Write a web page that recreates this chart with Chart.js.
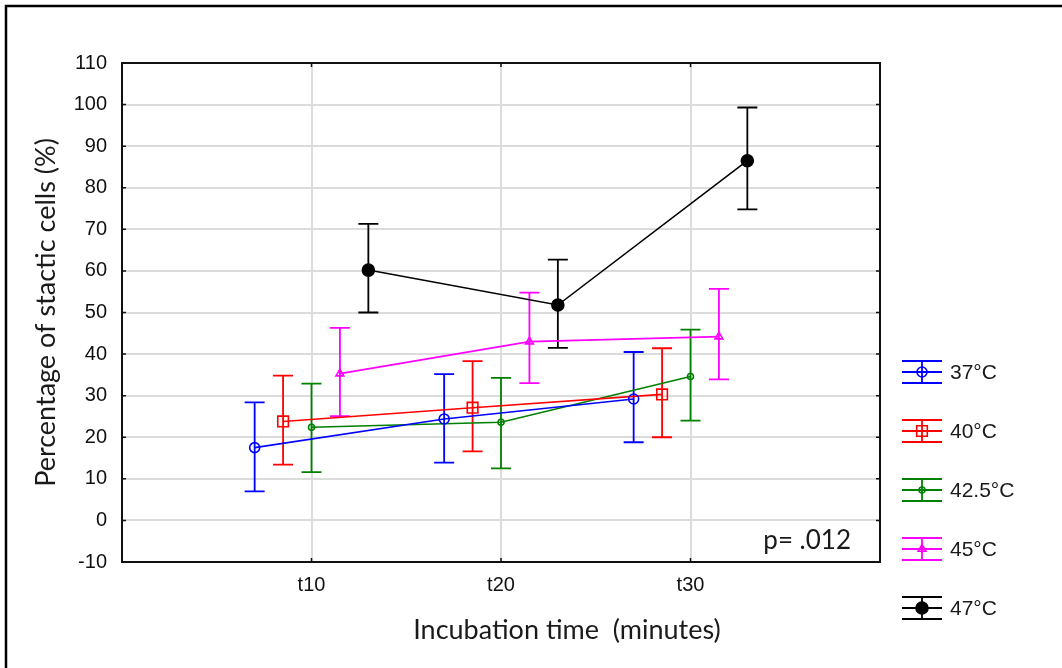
<!DOCTYPE html>
<html>
<head>
<meta charset="utf-8">
<script src="https://cdn.jsdelivr.net/npm/chart.js@4.4.1/dist/chart.umd.min.js"></script>
<style>
  html, body { margin: 0; padding: 0; background: #ffffff; }
  #wrap { width: 1062px; height: 668px; position: relative; }
</style>
</head>
<body>
<div id="wrap"><canvas id="c" width="1062" height="668"></canvas></div>
<script>
// ---------------- DATA ----------------
const categories = ['t10', 't20', 't30'];
const seriesNames = ['37°C', '40°C', '42.5°C', '45°C', '47°C'];
const yTickValues = [-10, 0, 10, 20, 30, 40, 50, 60, 70, 80, 90, 100, 110];

const mean37  = [17.5, 24.4, 29.2];
const upper37 = [28.4, 35.2, 40.5];
const lower37 = [7.0, 13.9, 18.8];

const mean40  = [23.8, 27.1, 30.3];
const upper40 = [34.8, 38.3, 41.4];
const lower40 = [13.4, 16.6, 20.0];

const mean425  = [22.4, 23.6, 34.6];
const upper425 = [32.9, 34.3, 45.9];
const lower425 = [11.6, 12.5, 24.0];

const mean45  = [35.3, 43.0, 44.2];
const upper45 = [46.3, 54.8, 55.7];
const lower45 = [25.1, 33.0, 33.9];

const mean47  = [60.2, 51.8, 86.5];
const upper47 = [71.3, 62.7, 99.3];
const lower47 = [50.0, 41.5, 74.8];

const pText = 'p= .012';
const xTitle = 'Incubation time  (minutes)';
const yTitle = 'Percentage of stactic cells (%)';

// ---------------- STYLE ----------------
const seriesStyle = [
  { color: '#0000ff', pointStyle: 'circle',   radius: 5,   fill: 'rgba(0,0,0,0)', dodge: -0.3 },
  { color: '#ff0000', pointStyle: 'rect',     radius: 7.5, fill: 'rgba(0,0,0,0)', dodge: -0.15 },
  { color: '#008000', pointStyle: 'circle',   radius: 3,   fill: 'rgba(0,0,0,0)', dodge: 0 },
  { color: '#ff00ff', pointStyle: 'triangle', radius: 4.5, fill: 'rgba(0,0,0,0)', dodge: 0.15 },
  { color: '#000000', pointStyle: 'circle',   radius: 6,   fill: '#000000',       dodge: 0.3 }
];
const means  = [mean37, mean40, mean425, mean45, mean47];
const uppers = [upper37, upper40, upper425, upper45, upper47];
const lowers = [lower37, lower40, lower425, lower45, lower47];

const tickFont = { family: '"Liberation Sans", Arial, sans-serif', size: 20 };
const titleFontCss = '27px Lato, "Open Sans", sans-serif';
const pFontCss = '26px Lato, "Open Sans", sans-serif';
const legendFontCss = '21px "Liberation Sans", Arial, sans-serif';
const gridColor = '#dcdcdc';

const datasets = seriesNames.map((name, s) => ({
  label: name,
  data: means[s].map((m, i) => ({ x: i + 1 + seriesStyle[s].dodge, y: m })),
  borderColor: seriesStyle[s].color,
  backgroundColor: seriesStyle[s].fill,
  borderWidth: 1.6,
  pointStyle: seriesStyle[s].pointStyle,
  pointRadius: seriesStyle[s].radius,
  pointBorderColor: seriesStyle[s].color,
  pointBackgroundColor: seriesStyle[s].fill,
  pointBorderWidth: 1.6,
  pointHoverRadius: seriesStyle[s].radius,
  tension: 0,
  fill: false
}));

const decoPlugin = {
  id: 'deco',
  beforeDraw(chart) {
    const ctx = chart.ctx;
    ctx.save();
    ctx.fillStyle = '#ffffff';
    ctx.fillRect(0, 0, chart.width, chart.height);
    ctx.restore();
  },
  beforeDatasetsDraw(chart) {
    const ctx = chart.ctx;
    const ys = chart.scales.y;
    ctx.save();
    chart.data.datasets.forEach((ds, s) => {
      const meta = chart.getDatasetMeta(s);
      ctx.strokeStyle = seriesStyle[s].color;
      ctx.lineWidth = 1.8;
      meta.data.forEach((pt, i) => {
        const x = pt.x;
        const yt = ys.getPixelForValue(uppers[s][i]);
        const yb = ys.getPixelForValue(lowers[s][i]);
        ctx.beginPath();
        ctx.moveTo(x, yt); ctx.lineTo(x, yb);
        ctx.moveTo(x - 10, yt); ctx.lineTo(x + 10, yt);
        ctx.moveTo(x - 10, yb); ctx.lineTo(x + 10, yb);
        ctx.stroke();
      });
    });
    ctx.restore();
  },
  afterDraw(chart) {
    const ctx = chart.ctx;
    const a = chart.chartArea;
    const xs = chart.scales.x, ys = chart.scales.y;
    ctx.save();
    // plot frame
    ctx.strokeStyle = '#111111';
    ctx.lineWidth = 2;
    ctx.strokeRect(a.left, a.top, a.right - a.left, a.bottom - a.top);
    // inward tick marks
    ctx.lineWidth = 1.5;
    ctx.beginPath();
    ys.ticks.forEach(t => {
      const y = ys.getPixelForValue(t.value);
      ctx.moveTo(a.left, y); ctx.lineTo(a.left + 4, y);
      ctx.moveTo(a.right, y); ctx.lineTo(a.right - 4, y);
    });
    xs.ticks.forEach(t => {
      const x = xs.getPixelForValue(t.value);
      ctx.moveTo(x, a.top); ctx.lineTo(x, a.top + 4);
      ctx.moveTo(x, a.bottom); ctx.lineTo(x, a.bottom - 4);
    });
    ctx.stroke();

    // outer figure border (top and left)
    ctx.strokeStyle = '#000000';
    ctx.lineWidth = 2.5;
    ctx.beginPath();
    ctx.moveTo(6, chart.height); ctx.lineTo(6, 6); ctx.lineTo(chart.width, 6);
    ctx.stroke();

    // p value
    ctx.fillStyle = '#1a1a1a';
    ctx.font = pFontCss;
    ctx.textAlign = 'right';
    ctx.textBaseline = 'middle';
    ctx.fillText(pText, a.right - 29, a.bottom - 21);

    // axis titles
    ctx.font = titleFontCss;
    ctx.textAlign = 'center';
    ctx.fillText(xTitle, 567, 630);
    ctx.save();
    ctx.translate(46, (a.top + a.bottom) / 2);
    ctx.rotate(-Math.PI / 2);
    ctx.fillText(yTitle, 0, 0);
    ctx.restore();

    // legend
    const lx0 = a.right + 22, lx1 = a.right + 62, lcx = (lx0 + lx1) / 2;
    seriesNames.forEach((name, s) => {
      const cy = 372 + s * 59;
      const st = seriesStyle[s];
      ctx.strokeStyle = st.color;
      ctx.lineWidth = 1.8;
      ctx.beginPath();
      ctx.moveTo(lx0, cy - 11); ctx.lineTo(lx1, cy - 11);
      ctx.moveTo(lx0, cy); ctx.lineTo(lx1, cy);
      ctx.moveTo(lx0, cy + 11); ctx.lineTo(lx1, cy + 11);
      ctx.moveTo(lcx, cy - 11); ctx.lineTo(lcx, cy + 11);
      ctx.stroke();
      ctx.fillStyle = st.fill;
      ctx.lineWidth = 1.6;
      Chart.helpers.drawPoint(ctx, { pointStyle: st.pointStyle, radius: st.radius, rotation: 0, borderWidth: 1.6 }, lcx, cy);
      ctx.fillStyle = '#1a1a1a';
      ctx.font = legendFontCss;
      ctx.textAlign = 'left';
      ctx.textBaseline = 'middle';
      ctx.fillText(name, lx1 + 8, cy + 1);
    });
    ctx.restore();
  }
};

new Chart(document.getElementById('c'), {
  type: 'line',
  data: { datasets },
  options: {
    responsive: false,
    animation: false,
    events: [],
    layout: { padding: { top: 63, right: 182, left: 0, bottom: 0 } },
    plugins: { legend: { display: false }, tooltip: { enabled: false } },
    scales: {
      x: {
        type: 'linear',
        min: 0, max: categories.length + 1,
        afterBuildTicks: sc => { sc.ticks = categories.map((c, i) => ({ value: i + 1 })); },
        afterFit: sc => { sc.height = 106; },
        ticks: {
          callback: v => categories[v - 1],
          font: tickFont, color: '#111111', padding: 11, maxRotation: 0, autoSkip: false
        },
        grid: { color: gridColor, lineWidth: 2, drawTicks: false },
        border: { display: false }
      },
      y: {
        type: 'linear',
        min: yTickValues[0], max: yTickValues[yTickValues.length - 1],
        afterBuildTicks: sc => { sc.ticks = yTickValues.map(v => ({ value: v })); },
        afterFit: sc => { sc.width = 122; },
        ticks: { font: tickFont, color: '#111111', padding: 15, autoSkip: false },
        grid: { color: gridColor, lineWidth: 2, drawTicks: false },
        border: { display: false }
      }
    }
  },
  plugins: [decoPlugin]
});
</script>
</body>
</html>
